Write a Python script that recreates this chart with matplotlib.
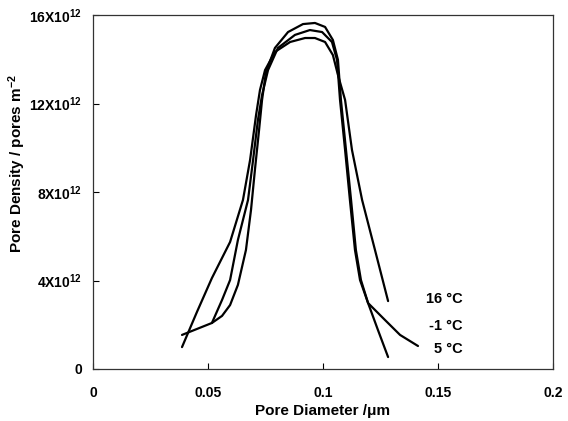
import numpy as np
import matplotlib
matplotlib.use('Agg')
from matplotlib import pyplot as plt

plt.rcParams['font.family'] = 'Liberation Sans'
plt.rcParams['font.weight'] = 'bold'
plt.rcParams['mathtext.fontset'] = 'custom'
plt.rcParams['mathtext.rm'] = 'Liberation Sans:bold'
plt.rcParams['mathtext.it'] = 'Liberation Sans:bold'
plt.rcParams['mathtext.bf'] = 'Liberation Sans:bold'

# pore diameter (um) and pore density (x1e12 pores m^-2)
d_16 = [0.0387, 0.0452, 0.0517, 0.0596, 0.0652, 0.0683, 0.0709, 0.0726, 0.0748,
        0.0791, 0.0857, 0.0922, 0.0965, 0.1009, 0.1043, 0.1065, 0.1096, 0.1126,
        0.1170, 0.1226, 0.1283]
n_16 = [0.99, 2.58, 4.11, 5.74, 7.64, 9.45, 11.48, 12.61, 13.51,
        14.33, 14.78, 14.96, 14.96, 14.78, 14.19, 13.29, 12.16, 9.90,
        7.64, 5.38, 3.07]

d_m1 = [0.0517, 0.0561, 0.0596, 0.0630, 0.0674, 0.0696, 0.0717, 0.0735, 0.0761,
        0.0804, 0.0878, 0.0943, 0.0996, 0.1039, 0.1061, 0.1074, 0.1096, 0.1117,
        0.1139, 0.1161, 0.1196, 0.1270, 0.1335, 0.1413]
n_m1 = [2.08, 3.12, 4.02, 5.83, 7.64, 9.45, 11.25, 12.38, 13.51,
        14.51, 15.10, 15.32, 15.23, 14.78, 13.97, 12.16, 9.90, 7.64,
        5.38, 4.02, 2.98, 2.21, 1.54, 1.04]

d_5 = [0.0387, 0.0452, 0.0517, 0.0561, 0.0596, 0.0630, 0.0665, 0.0687, 0.0704,
       0.0722, 0.0735, 0.0752, 0.0791, 0.0848, 0.0913, 0.0965, 0.1009, 0.1043,
       0.1065, 0.1078, 0.1100, 0.1122, 0.1143, 0.1165, 0.1196, 0.1239, 0.1283]
n_5 = [1.54, 1.81, 2.08, 2.40, 2.89, 3.80, 5.38, 7.19, 9.00,
       10.80, 12.16, 13.42, 14.51, 15.23, 15.59, 15.64, 15.46, 14.87,
       13.97, 12.16, 9.90, 7.64, 5.38, 4.02, 2.98, 1.76, 0.54]

labels = ['16 \u00b0C', '-1 \u00b0C', '5 \u00b0C']
label_x = [0.1609, 0.1609, 0.1609]
label_y = [3.16, 1.94, 0.90]

x_ticks = [0, 0.05, 0.1, 0.15, 0.2]
x_ticklabels = ['0', '0.05', '0.1', '0.15', '0.2']
y_ticks = [0, 4, 8, 12, 16]
y_ticklabels = ['0', '4X10$^{12}$', '8X10$^{12}$', '12X10$^{12}$', '16X10$^{12}$']

fig = plt.figure(figsize=(5.68, 4.21), dpi=100)
ax = fig.add_axes([93/568, 52/421, 460/568, 354/421])

for d, n in [(d_16, n_16), (d_m1, n_m1), (d_5, n_5)]:
    ax.plot(d, n, color='black', lw=1.6, solid_capstyle='round', solid_joinstyle='round')

for t, x, y in zip(labels, label_x, label_y):
    ax.text(x, y, t, ha='right', va='center', fontsize=10.5, fontweight='bold')

ax.set_xlim(0, 0.2)
ax.set_ylim(0, 16)
ax.set_xticks(x_ticks)
ax.set_xticklabels(x_ticklabels)
ax.set_yticks(y_ticks)
ax.set_yticklabels(y_ticklabels)
ax.tick_params(axis='x', direction='in', length=4, pad=12, labelsize=10, width=0.8)
ax.tick_params(axis='y', direction='in', length=4, pad=8, labelsize=10, width=0.8)
for s in ax.spines.values():
    s.set_linewidth(0.9)
    s.set_color('#333333')

ax.set_xlabel('Pore Diameter /\u03bcm', fontsize=11, fontweight='bold')
ax.xaxis.set_label_coords(0.5, -0.099)
ax.set_ylabel('Pore Density / pores m$^{-2}$', fontsize=11, fontweight='bold')
ax.yaxis.set_label_coords(-0.141, 0.58)

fig.savefig('out.png', dpi=100)
